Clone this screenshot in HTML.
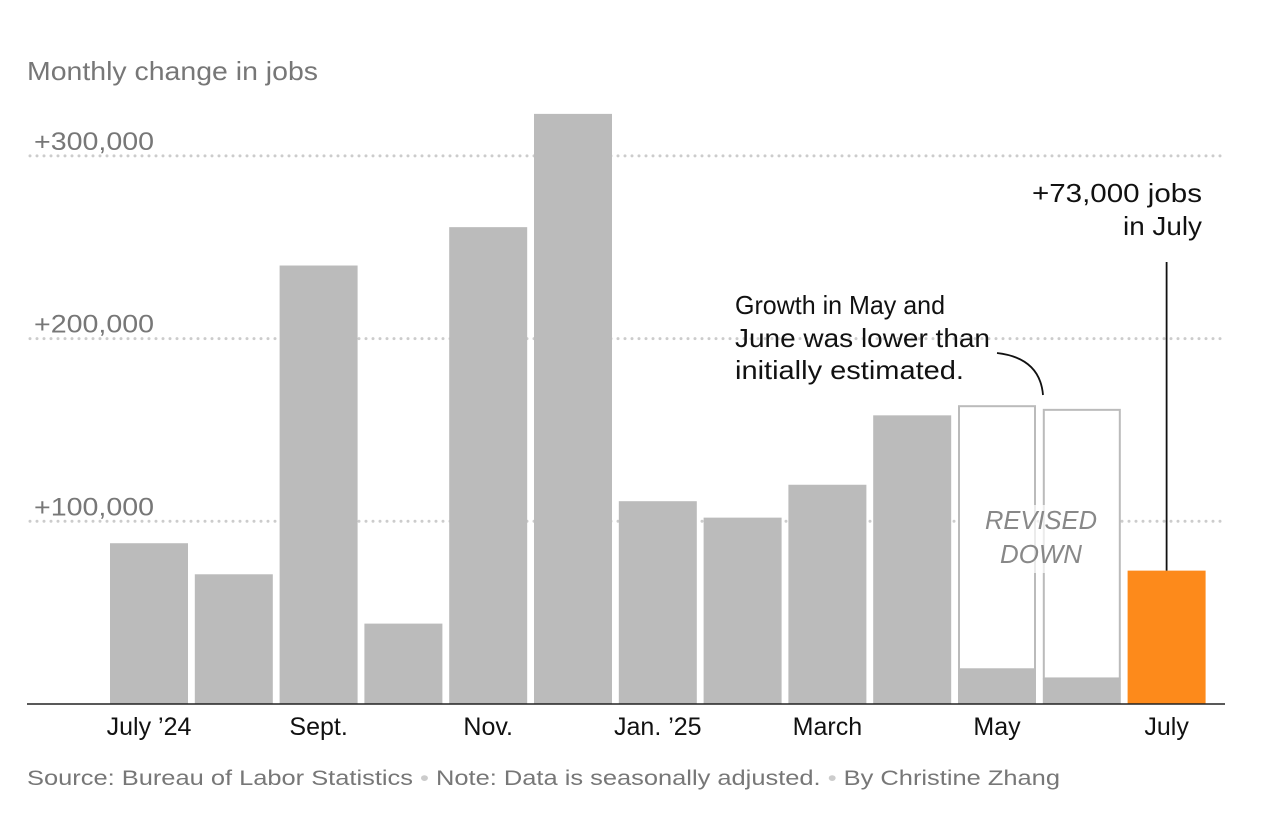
<!DOCTYPE html>
<html><head><meta charset="utf-8"><style>
body{margin:0;background:#fff;width:1280px;height:810px;overflow:hidden;font-family:"Liberation Sans",sans-serif}
svg text{font-family:"Liberation Sans",sans-serif}
</style></head><body>
<svg id="chart" width="1280" height="810">
<text x="27" y="80" font-size="26" fill="#777" textLength="291" lengthAdjust="spacingAndGlyphs">Monthly change in jobs</text>
<g id="grid"></g><g id="bars"></g><g id="xlabels"></g>
<line x1="27" x2="1225" y1="704" y2="704" stroke="#222" stroke-width="1.5"/>
<rect x="983" y="505" width="120" height="68" fill="#fff" opacity="0.7"/>
<text x="1041" y="529" font-size="26" font-style="italic" fill="#888" text-anchor="middle" textLength="112" lengthAdjust="spacingAndGlyphs">REVISED</text>
<text x="1041" y="563" font-size="26" font-style="italic" fill="#888" text-anchor="middle" textLength="82" lengthAdjust="spacingAndGlyphs">DOWN</text>
<text font-size="26" fill="#111"><tspan x="735" y="314" textLength="210" lengthAdjust="spacingAndGlyphs">Growth in May and</tspan><tspan x="735" y="347" textLength="255" lengthAdjust="spacingAndGlyphs">June was lower than</tspan><tspan x="735" y="379" textLength="229" lengthAdjust="spacingAndGlyphs">initially estimated.</tspan></text>
<path d="M997,353 Q1040,358 1043,395" fill="none" stroke="#111" stroke-width="1.8"/>
<text font-size="26" fill="#111"><tspan x="1032" y="202" textLength="170" lengthAdjust="spacingAndGlyphs">+73,000 jobs</tspan><tspan x="1123" y="235" textLength="79" lengthAdjust="spacingAndGlyphs">in July</tspan></text>
<line id="julyline" x1="1168" x2="1168" y1="262" y2="571" stroke="#111" stroke-width="1.8"/>
<text x="27" y="785" font-size="21" fill="#777" textLength="1033" lengthAdjust="spacingAndGlyphs">Source: Bureau of Labor Statistics  <tspan fill="#ccc">•</tspan>  Note: Data is seasonally adjusted.  <tspan fill="#ccc">•</tspan>  By Christine Zhang</text>
</svg>
<script>
const months=["Jul24","Aug24","Sep24","Oct24","Nov24","Dec24","Jan25","Feb25","Mar25","Apr25","May25","Jun25","Jul25"];
const values=[88000,71000,240000,44000,261000,323000,111000,102000,120000,158000,19000,14000,73000];
const originalValues=[null,null,null,null,null,null,null,null,null,null,163000,161000,null];
const xLabels=["July ’24","","Sept.","","Nov.","","Jan. ’25","","March","","May","","July"];
const yTicks=[100000,200000,300000];
const yTickLabels=["+100,000","+200,000","+300,000"];
const NS="http://www.w3.org/2000/svg";
function y(v){return 704-v*0.001827;}
function x(i){return 110+i*84.8;}
const bw=78;
function mk(t,a,p){const e=document.createElementNS(NS,t);for(const k in a)e.setAttribute(k,a[k]);p.appendChild(e);return e;}
const grid=document.getElementById('grid');
yTicks.forEach((t,i)=>{
 const l=mk('line',{x1:30,x2:1225,y1:y(t),y2:y(t),stroke:'#ccc','stroke-width':3,'stroke-dasharray':'0 7','stroke-linecap':'round'},grid);
 
 
 const tx=mk('text',{x:34,y:y(t)-6,'font-size':25,fill:'#777',textLength:120,lengthAdjust:'spacingAndGlyphs'},grid);tx.textContent=yTickLabels[i];
 
 
});
const bars=document.getElementById('bars');
values.forEach((v,i)=>{
 if(originalValues[i]!=null){
  const o=mk('rect',{x:x(i)+1,y:y(originalValues[i]),width:bw-2,height:y(v)-y(originalValues[i]),fill:'#fff',stroke:'#bbb','stroke-width':2},bars);
  
  
 }
 const r=mk('rect',{x:x(i),y:y(v),width:bw,height:704-y(v),fill:i==values.length-1?'#fd8a1b':'#bbb'},bars);
 
 
 if(xLabels[i]){
  const t=mk('text',{x:x(i)+bw/2,y:735,'font-size':25,fill:'#111','text-anchor':'middle'},document.getElementById('xlabels'));
  t.textContent=xLabels[i];
  
  
 }
});
const jl=document.getElementById('julyline');jl.setAttribute('x1',x(12)+bw/2);jl.setAttribute('x2',x(12)+bw/2);jl.setAttribute('y2',y(values[12]));
</script>
</body></html>
